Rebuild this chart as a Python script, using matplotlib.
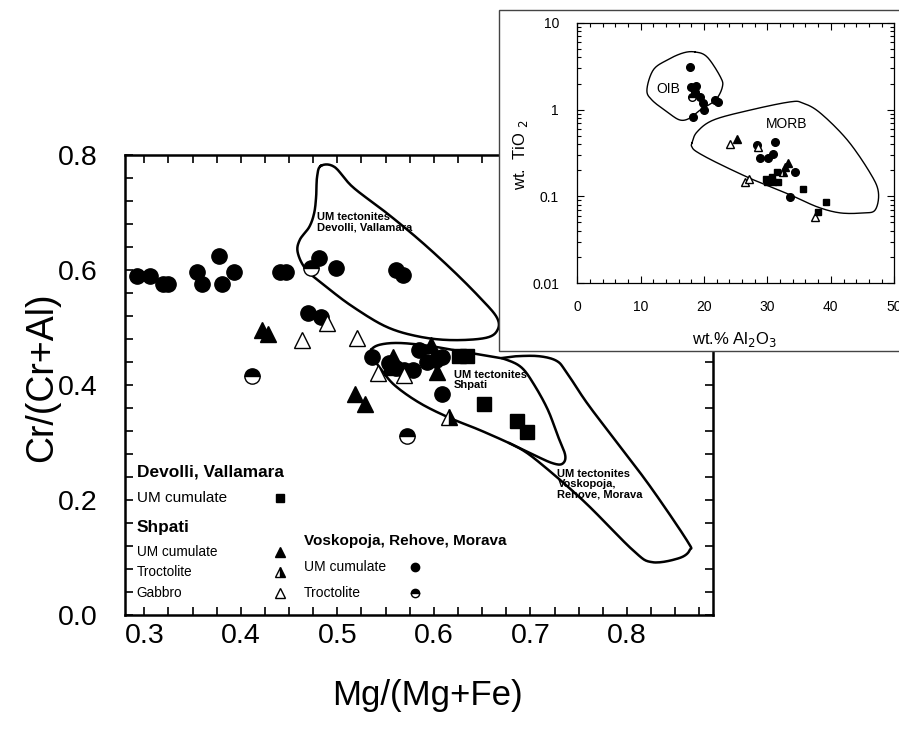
import numpy as np
import matplotlib
matplotlib.use("Agg")
import matplotlib.pyplot as plt
from matplotlib.patches import Rectangle
from matplotlib.ticker import MultipleLocator, LogLocator, NullFormatter

NARROW = ["Liberation Sans Narrow", "Liberation Sans"]
SANS = ["Liberation Sans", "DejaVu Sans"]

# ---- main diagram: Mg/(Mg+Fe) vs Cr/(Cr+Al) ----
# Voskopoja, Rehove, Morava - UM cumulate
vrm_um_x = [0.292, 0.306, 0.319, 0.325, 0.355, 0.360, 0.377, 0.380, 0.393, 0.441, 0.447,
            0.481, 0.499, 0.561, 0.568, 0.470, 0.483, 0.536, 0.554, 0.561, 0.569, 0.578,
            0.585, 0.593, 0.602, 0.608, 0.608]
vrm_um_y = [0.590, 0.590, 0.576, 0.576, 0.597, 0.576, 0.624, 0.576, 0.597, 0.597, 0.597,
            0.621, 0.604, 0.600, 0.591, 0.525, 0.518, 0.449, 0.438, 0.430, 0.426, 0.426,
            0.461, 0.440, 0.444, 0.449, 0.384]
# Voskopoja, Rehove, Morava - troctolite
vrm_troc_x = [0.473, 0.412, 0.572]
vrm_troc_y = [0.604, 0.416, 0.311]
# Shpati
shp_um_x = [0.422, 0.428, 0.518, 0.529, 0.558, 0.597, 0.603]
shp_um_y = [0.496, 0.489, 0.384, 0.367, 0.449, 0.470, 0.423]
shp_troc_x = [0.616]
shp_troc_y = [0.344]
shp_gab_x = [0.463, 0.489, 0.520, 0.542, 0.569]
shp_gab_y = [0.478, 0.508, 0.482, 0.421, 0.417]
# Devolli, Vallamara - UM cumulate
dev_um_x = [0.626, 0.634, 0.652, 0.686, 0.696, 0.556]
dev_um_y = [0.450, 0.450, 0.367, 0.337, 0.318, 0.430]

# UM tectonite fields
env_dev_x = [0.483, 0.497, 0.516, 0.551, 0.585, 0.619, 0.647, 0.665, 0.666, 0.654, 0.619,
             0.585, 0.551, 0.516, 0.489, 0.468, 0.459, 0.461, 0.471, 0.476, 0.478, 0.479]
env_dev_y = [0.781, 0.779, 0.744, 0.699, 0.652, 0.600, 0.553, 0.518, 0.496, 0.482, 0.478,
             0.484, 0.501, 0.536, 0.570, 0.600, 0.630, 0.652, 0.675, 0.699, 0.727, 0.762]
env_shp_x = [0.535, 0.544, 0.564, 0.595, 0.626, 0.658, 0.675, 0.691, 0.704, 0.718, 0.728,
             0.736, 0.733, 0.723, 0.704, 0.678, 0.647, 0.616, 0.585, 0.559, 0.544, 0.536]
env_shp_y = [0.461, 0.470, 0.473, 0.468, 0.459, 0.450, 0.444, 0.430, 0.400, 0.357, 0.313,
             0.278, 0.263, 0.264, 0.278, 0.299, 0.322, 0.343, 0.369, 0.400, 0.430, 0.449]
env_vos_x = [0.671, 0.686, 0.709, 0.727, 0.737, 0.758, 0.785, 0.823, 0.862, 0.865, 0.854,
             0.826, 0.806, 0.754, 0.702, 0.678]
env_vos_y = [0.447, 0.450, 0.450, 0.442, 0.423, 0.370, 0.310, 0.226, 0.130, 0.113, 0.099,
             0.092, 0.113, 0.200, 0.275, 0.299]

# ---- inset: Al2O3 vs TiO2 ----
ins_circ_x = [17.8, 18.0, 18.8, 18.6, 19.3, 19.9, 20.0, 18.3, 22.2, 21.8,
              28.4, 31.2, 28.9, 30.1, 30.9, 34.4, 33.6]
ins_circ_y = [3.11, 1.83, 1.88, 1.60, 1.40, 1.19, 1.00, 0.82, 1.23, 1.29,
              0.39, 0.42, 0.28, 0.28, 0.31, 0.19, 0.098]
ins_half_circ_x = [18.1]
ins_half_circ_y = [1.40]
ins_tri_x = [25.2, 33.3, 32.8]
ins_tri_y = [0.46, 0.245, 0.22]
ins_open_tri_x = [24.1, 26.5, 27.1, 37.5, 28.5]
ins_open_tri_y = [0.40, 0.145, 0.16, 0.058, 0.37]
ins_half_tri_x = [32.5]
ins_half_tri_y = [0.19]
ins_sq_x = [29.7, 30.0, 30.8, 30.9, 31.7, 35.6, 39.3, 37.9, 31.5]
ins_sq_y = [0.16, 0.145, 0.165, 0.145, 0.145, 0.122, 0.085, 0.066, 0.19]

oib_x = [18.6, 20.5, 22.6, 22.9, 21.8, 19.4, 17.8, 16.2, 14.2, 11.8, 11.0, 12.0, 14.2, 16.7]
oib_y = [4.63, 4.05, 2.38, 1.83, 1.29, 0.99, 0.80, 0.76, 0.94, 1.29, 1.69, 2.87, 3.74, 4.51]
morb_x = [18.1, 18.9, 21.5, 27.3, 33.6, 35.6, 38.3, 42.6, 46.2, 47.5, 47.0, 45.1, 41.5,
          37.9, 33.6, 27.8, 22.1, 18.9, 18.1]
morb_y = [0.413, 0.553, 0.76, 0.99, 1.23, 1.19, 0.92, 0.447, 0.186, 0.112, 0.0697, 0.0644,
          0.0644, 0.0754, 0.104, 0.155, 0.243, 0.325, 0.371]


def smooth(xs, ys, closed=True, n=14):
    # Catmull-Rom curve through the outline points
    p = np.column_stack([xs, ys]).astype(float)
    if closed:
        p = np.vstack([p[-1], p, p[0], p[1]])
    else:
        p = np.vstack([p[0], p, p[-1]])
    t = np.linspace(0, 1, n, endpoint=False)[:, None]
    out = []
    for i in range(1, len(p) - 2):
        p0, p1, p2, p3 = p[i - 1], p[i], p[i + 1], p[i + 2]
        out.append(0.5 * (2 * p1 + (-p0 + p2) * t
                          + (2 * p0 - 5 * p1 + 4 * p2 - p3) * t ** 2
                          + (-p0 + 3 * p1 - 3 * p2 + p3) * t ** 3))
    out.append(p[-2][None])
    out = np.vstack(out)
    return out[:, 0], out[:, 1]


def style(kind, ms):
    base = dict(linestyle="none", markeredgecolor="black", markeredgewidth=1.0, markersize=ms)
    if kind == "circle":
        base.update(marker="o", markerfacecolor="black")
    elif kind == "half_circle":
        base.update(marker="o", fillstyle="top", markerfacecolor="black",
                    markerfacecoloralt="white")
    elif kind == "tri":
        base.update(marker="^", markerfacecolor="black", markersize=ms * 1.1)
    elif kind == "half_tri":
        base.update(marker="^", fillstyle="right", markerfacecolor="black",
                    markerfacecoloralt="white", markersize=ms * 1.1)
    elif kind == "open_tri":
        base.update(marker="^", markerfacecolor="white", markersize=ms * 1.1)
    elif kind == "square":
        base.update(marker="s", markerfacecolor="black", markersize=ms * 0.9)
    return base


fig = plt.figure(figsize=(8.99, 7.34), dpi=100)
ax = fig.add_axes([0.139, 0.162, 0.654, 0.627])

for ex, ey, closed in [(env_dev_x, env_dev_y, True), (env_shp_x, env_shp_y, True),
                       (env_vos_x, env_vos_y, False)]:
    sx, sy = smooth(ex, ey, closed)
    ax.plot(sx, sy, color="black", lw=1.8, zorder=2)

ax.plot(vrm_um_x, vrm_um_y, zorder=3, **style("circle", 11))
ax.plot(vrm_troc_x, vrm_troc_y, zorder=3, **style("half_circle", 11))
ax.plot(shp_um_x, shp_um_y, zorder=3, **style("tri", 11))
ax.plot(shp_troc_x, shp_troc_y, zorder=3, **style("half_tri", 11))
ax.plot(shp_gab_x, shp_gab_y, zorder=3, **style("open_tri", 11))
ax.plot(dev_um_x, dev_um_y, zorder=3, **style("square", 11))

ax.set_xlim(0.280, 0.889)
ax.set_ylim(0.0, 0.8)
ax.xaxis.set_major_locator(MultipleLocator(0.1))
ax.xaxis.set_minor_locator(MultipleLocator(0.025))
ax.yaxis.set_major_locator(MultipleLocator(0.2))
ax.yaxis.set_minor_locator(MultipleLocator(0.04))
ax.xaxis.set_major_formatter(plt.FormatStrFormatter("%.1f"))
ax.yaxis.set_major_formatter(plt.FormatStrFormatter("%.1f"))
ax.tick_params(which="both", direction="in", top=True, right=True, length=6, width=1.2,
               labelsize=20.5)
ax.tick_params(axis="x", pad=6)
ax.tick_params(axis="y", pad=20)
for lab in ax.get_xticklabels() + ax.get_yticklabels():
    lab.set_family(NARROW)
for sp in ax.spines.values():
    sp.set_linewidth(1.8)

ax.set_xlabel("Mg/(Mg+Fe)", family=NARROW, fontsize=25, va="center")
ax.xaxis.set_label_coords(0.515, -0.174)
ax.set_ylabel("Cr/(Cr+Al)", family=NARROW, fontsize=27, va="center")
ax.yaxis.set_label_coords(-0.141, 0.517)

field_font = dict(family=NARROW, fontsize=8, fontweight="bold", va="top", ha="left",
                  linespacing=1.05, zorder=4)
ax.text(0.479, 0.701, "UM tectonites\nDevolli, Vallamara", **field_font)
ax.text(0.621, 0.426, "UM tectonites\nShpati", **field_font)
ax.text(0.728, 0.254, "UM tectonites\nVoskopoja,\nRehove, Morava", **field_font)

# legend block (axes fraction layout)
left_rows = [
    ("Devolli, Vallamara", "bold", 12.4, None, 0.311),
    ("UM cumulate", "normal", 11, "square", 0.254),
    ("Shpati", "bold", 12.4, None, 0.191),
    ("UM cumulate", "normal", 9.8, "tri", 0.137),
    ("Troctolite", "normal", 9.8, "half_tri", 0.0935),
    ("Gabbro", "normal", 9.8, "open_tri", 0.048),
]
right_rows = [
    ("Voskopoja, Rehove, Morava", "bold", 11, None, 0.161),
    ("UM cumulate", "normal", 10, "circle", 0.104),
    ("Troctolite", "normal", 10, "half_circle", 0.048),
]
for rows, tx, mx in [(left_rows, 0.020, 0.2636), (right_rows, 0.304, 0.493)]:
    for text, weight, size, kind, yy in rows:
        fam = SANS if text.startswith("Voskopoja") else NARROW
        ax.text(tx, yy, text, transform=ax.transAxes, family=fam, fontsize=size,
                fontweight=weight, va="center", ha="left")
        if kind:
            ax.plot([mx], [yy], transform=ax.transAxes, clip_on=False, **style(kind, 6))

# ---- inset ----
frame = Rectangle((0.555, 0.522), 0.46, 0.464, transform=fig.transFigure,
                  facecolor="white", edgecolor="#444444", lw=1.0, zorder=5)
fig.add_artist(frame)

ins = fig.add_axes([0.642, 0.6144, 0.3527, 0.3543])
ins.set_zorder(10)
ins.set_yscale("log")

for ex, ey in [(oib_x, oib_y), (morb_x, morb_y)]:
    sx, sy = smooth(ex, np.log10(ey), True)
    ins.plot(sx, 10 ** sy, color="black", lw=1.0, zorder=2)

ins.plot(ins_circ_x, ins_circ_y, zorder=3, **style("circle", 5.5))
ins.plot(ins_half_circ_x, ins_half_circ_y, zorder=3, **style("half_circle", 5.5))
ins.plot(ins_tri_x, ins_tri_y, zorder=3, **style("tri", 5.5))
ins.plot(ins_half_tri_x, ins_half_tri_y, zorder=3, **style("half_tri", 5.5))
ins.plot(ins_open_tri_x, ins_open_tri_y, zorder=3, **style("open_tri", 5.5))
ins.plot(ins_sq_x, ins_sq_y, zorder=3, **style("square", 5.5))

ins.set_xlim(0, 50)
ins.set_ylim(0.01, 10)
ins.xaxis.set_major_locator(MultipleLocator(10))
ins.xaxis.set_minor_locator(MultipleLocator(2))
ins.yaxis.set_major_locator(LogLocator(base=10))
ins.yaxis.set_minor_locator(LogLocator(base=10, subs=np.arange(2, 10)))
ins.yaxis.set_minor_formatter(NullFormatter())
ins.yaxis.set_major_formatter(plt.FuncFormatter(lambda v, p: ("%g" % v)))
ins.tick_params(which="both", direction="in", top=True, right=True, width=0.8,
                labelsize=10)
ins.tick_params(which="major", length=5)
ins.tick_params(which="minor", length=3)
ins.tick_params(axis="x", pad=12)
ins.tick_params(axis="y", pad=13)
for lab in ins.get_xticklabels() + ins.get_yticklabels():
    lab.set_family(SANS)
for sp in ins.spines.values():
    sp.set_linewidth(0.9)

ins.text(14.4, 1.72, "OIB", family=SANS, fontsize=10, ha="center", va="center")
ins.text(33.0, 0.684, "MORB", family=SANS, fontsize=10, ha="center", va="center")
ins.set_xlabel("wt.% Al$_2$O$_3$", family=SANS, fontsize=12, va="center")
ins.xaxis.set_label_coords(0.498, -0.219)
ins.set_ylabel("wt.  TiO $_2$", family=SANS, fontsize=12, va="center")
ins.yaxis.set_label_coords(-0.18, 0.492)

fig.savefig("out.png", dpi=100)
